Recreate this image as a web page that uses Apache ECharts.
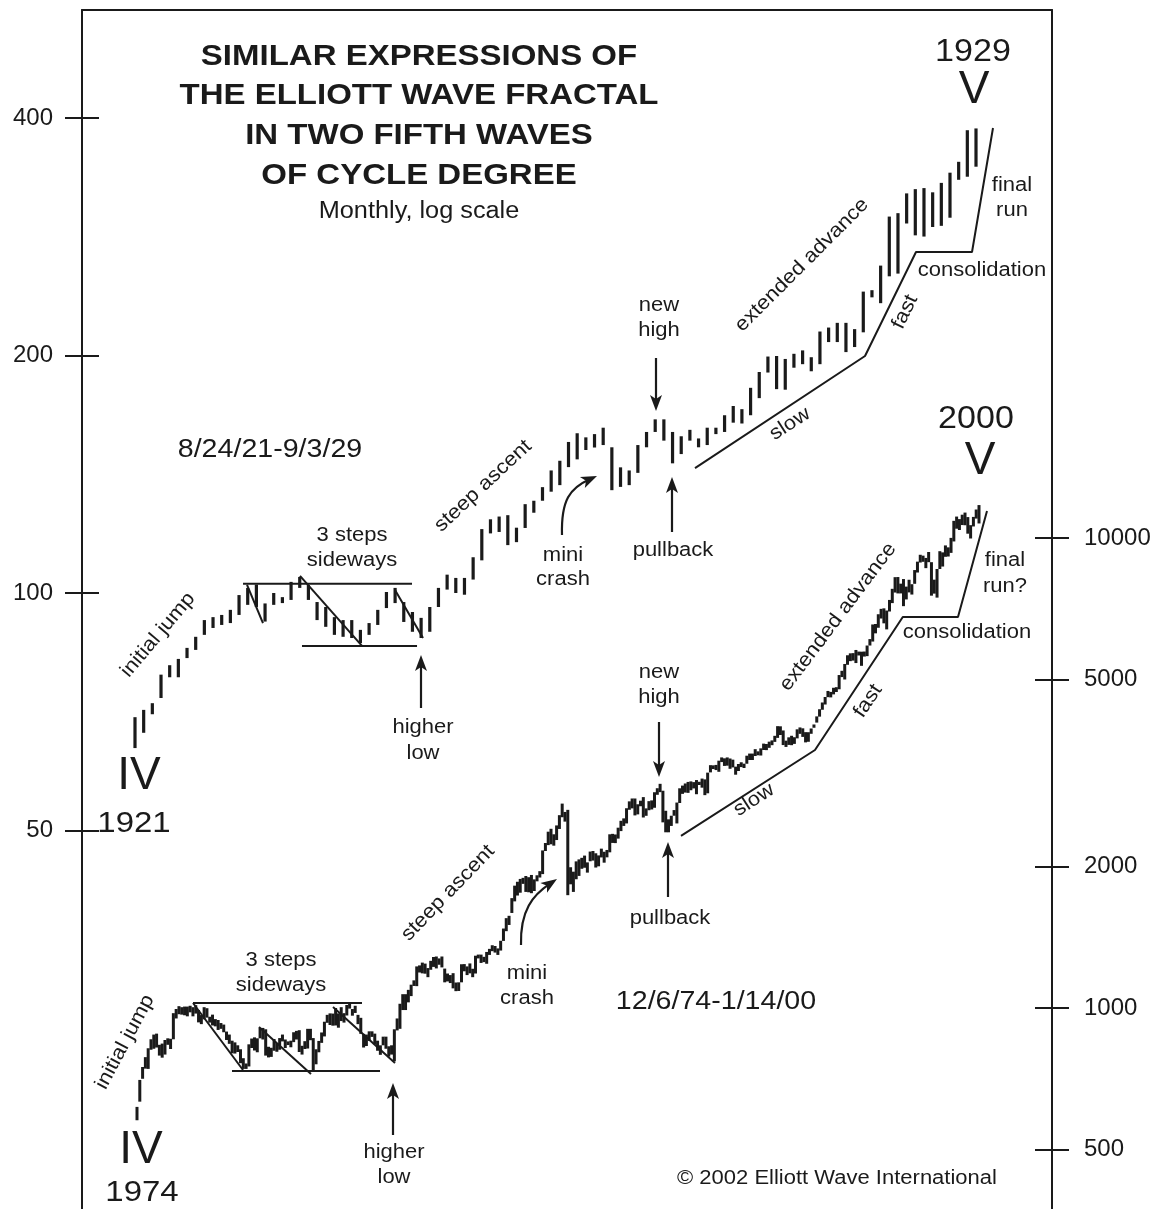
<!DOCTYPE html>
<html>
<head>
<meta charset="utf-8">
<title>Elliott Wave Fractal</title>
<script src="https://cdn.jsdelivr.net/npm/echarts@6/dist/echarts.min.js"></script>
<style>
  html, body { margin: 0; padding: 0; background: #fff; }
  #chart { width: 1163px; height: 1209px; }
</style>
</head>
<body>
<div id="chart"></div>
<script>
// DJIA monthly range, Aug 1921 .. Sep 1929 (index 0 = Aug 1921)
const lowTop = [
  63.6, 66.5, 70.2, 73.6, 78.2,
  78.2, 82.7, 84.7, 88.5, 90.3, 91.1, 91.6, 93.8, 96.6, 96.0, 92.0, 96.6,
  97.1, 98.0, 101.5, 98.0, 92.4, 90.6, 88.5, 88.0, 87.7, 86.4, 88.5, 91.1,
  95.7, 97.1, 91.9, 89.3, 87.7, 89.3, 96.0, 101, 100, 99.5, 104, 110,
  119, 119.5, 115, 116, 120.9, 126.4, 130.9, 134.4, 137, 144.4, 147.7, 151.8,
  152.9, 154, 135, 136.3, 137, 142, 153, 160, 156, 146, 150, 156,
  153, 154, 159, 160, 164.4, 164, 168, 176.6, 190.3, 181.3, 181, 193,
  195, 191, 195, 208, 208, 202, 205, 214, 237, 233, 252, 254,
  294, 284, 283, 291, 292, 299, 334, 337, 347
];
const highTop = [
  69.6, 71.1, 72.5, 78.8, 81.0,
  82.5, 85.2, 88.0, 92.4, 93.2, 93.8, 95.2, 99.4, 101.5, 102.5, 97.0, 100.0,
  98.8, 103.3, 104.8, 102.4, 97.4, 96.0, 93.2, 92.4, 92.4, 89.8, 91.6, 95.2,
  100.3, 101.5, 97.4, 94.6, 93.0, 96.0, 101.5, 105.5, 104.5, 104.5, 111, 120.5,
  124, 125, 125.5, 121, 129.6, 130.9, 136.2, 143, 147.1, 155.4, 159.4, 157.5,
  159, 162, 153, 144.3, 143, 154, 160, 166, 166, 160, 158, 161,
  157, 162, 162, 168, 172.6, 171, 182, 190.6, 199.4, 199.7, 198, 201,
  203, 199, 214.5, 217, 220, 220, 216, 241, 242, 260, 300, 303,
  321, 325, 326, 322, 331, 341, 352, 386, 388
];

// DJIA monthly range, Dec 1974 .. Jan 2000 (index 0 = Dec 1974)
const lowBot = [
  577,
  632, 707, 743, 742, 815, 819, 824, 792, 784, 796, 835, 818,
  858, 950, 970, 968, 965, 960, 979, 960, 973, 932, 924, 946,
  954, 931, 918, 914, 898, 903, 888, 855, 839, 801, 800, 806,
  763, 742, 742, 751, 822, 812, 805, 862, 857, 792, 785, 787,
  811, 807, 815, 849, 822, 834, 825, 846, 857, 806, 796, 818,
  820, 854, 735, 759, 805, 843, 870, 930, 920, 917, 918, 908,
  938, 931, 964, 997, 963, 976, 924, 881, 824, 830, 851, 868,
  837, 811, 795, 833, 819, 788, 796, 770, 896, 903, 990, 990,
  1028, 1060, 1114, 1113, 1190, 1185, 1183, 1163, 1206, 1223, 1214, 1236,
  1220, 1134, 1139, 1130, 1101, 1086, 1087, 1134, 1197, 1175, 1185, 1163,
  1184, 1275, 1247, 1252, 1242, 1297, 1321, 1312, 1297, 1325, 1389, 1457,
  1502, 1593, 1686, 1735, 1759, 1837, 1766, 1763, 1755, 1774, 1860, 1895,
  1927, 2158, 2221, 2230, 2215, 2277, 2404, 2546, 2492, 1738, 1833, 1766,
  1879, 1910, 1978, 1988, 1941, 2052, 2059, 1990, 2002, 2091, 2038, 2092,
  2144, 2245, 2243, 2293, 2379, 2440, 2470, 2641, 2659, 2569, 2582, 2687,
  2543, 2564, 2635, 2645, 2667, 2842, 2879, 2483, 2365, 2365, 2440, 2565,
  2470, 2730, 2855, 2873, 2869, 2906, 2932, 2850, 2982, 2943, 2837, 2863,
  3172, 3224, 3208, 3181, 3336, 3274, 3278, 3228, 3250, 3136, 3193, 3255,
  3241, 3309, 3370, 3370, 3437, 3449, 3445, 3539, 3537, 3577, 3624, 3683,
  3756, 3809, 3626, 3593, 3629, 3624, 3647, 3747, 3831, 3774, 3674, 3685,
  3832, 3947, 4048, 4168, 4311, 4423, 4585, 4580, 4648, 4703, 4766, 5059,
  5000, 5373, 5470, 5485, 5419, 5624, 5346, 5594, 5606, 5905, 6021, 6268,
  6442, 6740, 6583, 6391, 6976, 7269, 7655, 7622, 7622, 7161, 7401, 7660,
  7580, 7990, 8444, 8868, 8899, 8627, 8883, 7539, 7615, 7467, 8592, 8695,
  9120, 9133, 9297, 9832, 10466, 10400, 10655, 10645, 10213, 9976, 10581, 10998,
  10738
];
const highBot = [
  616,
  703, 749, 786, 821, 858, 878, 882, 835, 840, 855, 862, 860,
  975, 995, 1009, 1004, 1007, 1007, 1011, 1004, 1014, 990, 966, 1004,
  999, 958, 968, 947, 943, 929, 922, 891, 878, 852, 845, 833,
  817, 782, 762, 837, 861, 866, 862, 907, 907, 901, 827, 823,
  859, 842, 863, 878, 857, 849, 852, 888, 894, 897, 831, 850,
  903, 903, 863, 817, 851, 887, 935, 967, 974, 973, 1000, 974,
  1004, 975, 1015, 1024, 995, 1011, 967, 953, 881, 878, 892, 892,
  882, 852, 833, 869, 869, 829, 833, 901, 950, 1021, 1070, 1070,
  1093, 1121, 1145, 1226, 1232, 1249, 1243, 1216, 1260, 1284, 1287, 1275,
  1287, 1213, 1184, 1175, 1186, 1133, 1134, 1239, 1240, 1226, 1244, 1212,
  1292, 1299, 1299, 1285, 1316, 1336, 1360, 1355, 1339, 1390, 1476, 1553,
  1571, 1713, 1821, 1856, 1882, 1892, 1909, 1898, 1919, 1878, 1916, 1955,
  2164, 2244, 2372, 2406, 2342, 2446, 2572, 2722, 2613, 2640, 1993, 1950,
  2051, 2071, 2087, 2110, 2041, 2152, 2158, 2134, 2112, 2183, 2150, 2169,
  2342, 2347, 2340, 2419, 2502, 2532, 2661, 2752, 2791, 2791, 2713, 2761,
  2810, 2659, 2755, 2765, 2878, 2935, 2999, 2899, 2628, 2520, 2565, 2637,
  2736, 2934, 2973, 3004, 3027, 3035, 3024, 3055, 3029, 3077, 3065, 3168,
  3286, 3283, 3290, 3359, 3413, 3398, 3413, 3395, 3376, 3262, 3305, 3333,
  3310, 3442, 3478, 3478, 3554, 3516, 3568, 3652, 3645, 3687, 3710, 3794,
  3978, 3975, 3895, 3705, 3766, 3795, 3768, 3917, 3953, 3936, 3863, 3862,
  3933, 4011, 4173, 4322, 4467, 4589, 4727, 4705, 4801, 4815, 5110, 5217,
  5395, 5630, 5683, 5689, 5778, 5732, 5729, 5734, 5905, 6094, 6547, 6561,
  6883, 7067, 7085, 7009, 7383, 7796, 8254, 8259, 7996, 8178, 7881, 8150,
  7974, 8546, 8906, 9211, 9172, 9070, 9338, 8883, 8154, 8592, 9374, 9320,
  9643, 9552, 10006, 10878, 11107, 10970, 11209, 11326, 11079, 10649, 11089, 11497,
  11750
];

const leftTicks = [50, 100, 200, 400];
const rightTicks = [500, 1000, 2000, 5000, 10000];

// hand-drawn guide lines, [month index, index level]
const topGuides = [
  [[12.46, 102.7], [31.95, 102.7]],
  [[19.26, 85.7], [32.53, 85.7]],
  [[12.92, 102.4], [14.76, 91.6]],
  [[19.03, 105.1], [26.18, 85.7]],
  [[29.99, 100.9], [33.22, 87.7]],
  [[64.59, 144.0], [84.20, 199.7], [90.08, 270.5], [96.54, 270.5], [98.96, 388.5]]
];
const botGuides = [
  [[20.02, 1024.8], [80.43, 1024.8]],
  [[33.96, 734.6], [86.87, 734.6]],
  [[20.02, 1024.8], [37.89, 738]],
  [[43.61, 911], [62.2, 723.8]],
  [[70.07, 1004.9], [92.23, 763.8]],
  [[194.47, 2323], [242.37, 3540], [273.76, 6790], [293.49, 6790], [303.86, 11415]]
];

const INK = '#1a1a1a';
const FONT = '"Liberation Sans", Arial, Helvetica, sans-serif';
const lg = v => Math.log10(v);

function barRenderer(w) {
  return function (params, api) {
    const x = api.value(0);
    const top = api.coord([x, api.value(2)]);
    const bot = api.coord([x, api.value(1)]);
    const h = Math.max(2.5, bot[1] - top[1]);
    return { type: 'rect', shape: { x: top[0] - w / 2, y: top[1], width: w, height: h }, style: { fill: INK } };
  };
}

function txt(s, x, y, size, o) {
  o = o || {};
  return {
    type: 'text', x: x, y: y, z: 20,
    rotation: (o.rot || 0) * Math.PI / 180,
    scaleX: o.sx == null ? 1.1 : o.sx,
    style: {
      text: s, fill: INK,
      font: (o.bold ? 'bold ' : '') + size + 'px ' + FONT,
      textAlign: 'center', textVerticalAlign: 'middle',
      align: 'center', verticalAlign: 'middle'
    }
  };
}

function head(tx, ty, ang) {
  const L = 16, W = 6;
  const c = Math.cos(ang), s = Math.sin(ang);
  const bx = tx - L * c, by = ty - L * s;
  return {
    type: 'polygon', z: 20,
    shape: { points: [[tx, ty], [bx - W * s, by + W * c], [tx - 0.75 * L * c, ty - 0.75 * L * s], [bx + W * s, by - W * c]] },
    style: { fill: INK }
  };
}

function arrow(x1, y1, x2, y2) {
  const a = Math.atan2(y2 - y1, x2 - x1);
  return [
    { type: 'line', z: 20, shape: { x1: x1, y1: y1, x2: x2 - 10 * Math.cos(a), y2: y2 - 10 * Math.sin(a) }, style: { stroke: INK, lineWidth: 2.2 } },
    head(x2, y2, a)
  ];
}

function curvedArrow(x1, y1, c1x, c1y, c2x, c2y, x2, y2) {
  const a = Math.atan2(y2 - c2y, x2 - c2x);
  return [
    { type: 'bezierCurve', z: 20, shape: { x1: x1, y1: y1, cpx1: c1x, cpy1: c1y, cpx2: c2x, cpy2: c2y, x2: x2 - 8 * Math.cos(a), y2: y2 - 8 * Math.sin(a) }, style: { stroke: INK, lineWidth: 2.2, fill: null } },
    head(x2, y2, a)
  ];
}

const graphics = [
  txt('SIMILAR EXPRESSIONS OF', 419, 57, 30, { bold: true }),
  txt('THE ELLIOTT WAVE FRACTAL', 419, 96, 30, { bold: true }),
  txt('IN TWO FIFTH WAVES', 419, 136, 30, { bold: true }),
  txt('OF CYCLE DEGREE', 419, 176, 30, { bold: true }),
  txt('Monthly, log scale', 419, 212, 23),

  // 1921-29
  txt('1929', 973, 52, 31),
  txt('V', 974, 90, 46, { sx: 1 }),
  txt('final', 1012, 185, 20),
  txt('run', 1012, 210, 20),
  txt('consolidation', 982, 270, 20),
  txt('fast', 905, 312, 20, { rot: 64 }),
  txt('slow', 790, 424, 20, { rot: 33 }),
  txt('extended advance', 802, 265, 20, { rot: 45 }),
  txt('new', 659, 305, 20),
  txt('high', 659, 330, 20),
  txt('steep ascent', 483, 486, 20, { rot: 43 }),
  txt('mini', 563, 555, 20),
  txt('crash', 563, 579, 20),
  txt('pullback', 673, 550, 20),
  txt('8/24/21-9/3/29', 270, 450, 26),
  txt('3 steps', 352, 535, 20),
  txt('sideways', 352, 560, 20),
  txt('initial jump', 158, 635, 20, { rot: 50 }),
  txt('higher', 423, 727, 20),
  txt('low', 423, 753, 20),
  txt('IV', 139, 776, 46, { sx: 1 }),
  txt('1921', 134, 824, 30),

  // 1974-2000
  txt('2000', 976, 419, 31),
  txt('V', 980, 461, 46, { sx: 1 }),
  txt('final', 1005, 560, 20),
  txt('run?', 1005, 586, 20),
  txt('consolidation', 967, 632, 20),
  txt('fast', 868, 701, 20, { rot: 56 }),
  txt('extended advance', 838, 617, 20, { rot: 53 }),
  txt('slow', 754, 800, 20, { rot: 33 }),
  txt('new', 659, 672, 20),
  txt('high', 659, 697, 20),
  txt('pullback', 670, 918, 20),
  txt('steep ascent', 448, 893, 20, { rot: 46 }),
  txt('mini', 527, 973, 20),
  txt('crash', 527, 998, 20),
  txt('12/6/74-1/14/00', 716, 1002, 26),
  txt('3 steps', 281, 960, 20),
  txt('sideways', 281, 985, 20),
  txt('initial jump', 125, 1042, 20, { rot: 62 }),
  txt('higher', 394, 1152, 20),
  txt('low', 394, 1177, 20),
  txt('IV', 141, 1150, 46, { sx: 1 }),
  txt('1974', 142, 1193, 30),
  txt('\u00A9 2002 Elliott Wave International', 837, 1178, 20)
].concat(
  arrow(656, 358, 656, 411),
  arrow(672, 532, 672, 477),
  arrow(421, 708, 421, 655),
  curvedArrow(562, 535, 561, 500, 570, 488, 597, 476),
  arrow(659, 722, 659, 777),
  arrow(668, 897, 668, 842),
  arrow(393, 1135, 393, 1083),
  curvedArrow(521, 945, 520, 910, 533, 895, 557, 879)
);

const guideSeries = (guides, xi, yi) => guides.map(g => ({
  type: 'line', xAxisIndex: xi, yAxisIndex: yi, silent: true,
  symbol: 'none', animation: false,
  lineStyle: { color: INK, width: 2 },
  data: g.map(p => [p[0], lg(p[1])])
}));

const chart = echarts.init(document.getElementById('chart'), null, { renderer: 'canvas' });

const tickStyle = { color: INK, width: 2 };
const labelStyle = { color: INK, fontSize: 24, fontFamily: FONT };
const frameLine = { show: true, onZero: false, lineStyle: { color: INK, width: 2 } };

chart.setOption({
  animation: false,
  backgroundColor: '#fff',
  grid: { left: 82, right: 111, top: 10, bottom: 0, containLabel: false },
  xAxis: [
    { type: 'value', position: 'top', min: -6.1129, max: 105.7657,
      axisLine: frameLine,
      axisTick: { show: false }, axisLabel: { show: false }, splitLine: { show: false } },
    { type: 'value', position: 'bottom', min: -19.6616, max: 327.0962, show: false,
      axisLine: { onZero: false } }
  ],
  yAxis: [
    { type: 'value', position: 'left', min: 1.21923, max: 2.73895,
      axisLine: frameLine,
      axisTick: { show: true, length: 17, lineStyle: tickStyle, customValues: leftTicks.map(lg) },
      axisLabel: Object.assign({ margin: 29, customValues: leftTicks.map(lg),
        formatter: v => String(Math.round(Math.pow(10, v))) }, labelStyle),
      splitLine: { show: false } },
    { type: 'value', position: 'left', min: 1.21923, max: 2.73895,
      axisLine: { show: false, onZero: false },
      axisTick: { show: true, inside: true, length: 17, lineStyle: tickStyle, customValues: leftTicks.map(lg) },
      axisLabel: { show: false }, splitLine: { show: false } },
    { type: 'value', position: 'right', min: 2.57234, max: 5.12340,
      axisLine: frameLine,
      axisTick: { show: true, length: 17, lineStyle: tickStyle, customValues: rightTicks.map(lg) },
      axisLabel: Object.assign({ margin: 32, customValues: rightTicks.map(lg),
        formatter: v => String(Math.round(Math.pow(10, v))) }, labelStyle),
      splitLine: { show: false } },
    { type: 'value', position: 'right', min: 2.57234, max: 5.12340,
      axisLine: { show: false, onZero: false },
      axisTick: { show: true, inside: true, length: 17, lineStyle: tickStyle, customValues: rightTicks.map(lg) },
      axisLabel: { show: false }, splitLine: { show: false } }
  ],
  series: [
    { type: 'custom', name: '1921-1929', xAxisIndex: 0, yAxisIndex: 0,
      renderItem: barRenderer(3.2), encode: { x: 0, y: [1, 2] },
      data: lowTop.map((lo, i) => [i, lg(lo), lg(highTop[i])]) },
    { type: 'custom', name: '1974-2000', xAxisIndex: 1, yAxisIndex: 2,
      renderItem: barRenderer(3.0), encode: { x: 0, y: [1, 2] },
      data: lowBot.map((lo, i) => [i, lg(lo), lg(highBot[i])]) }
  ].concat(guideSeries(topGuides, 0, 0), guideSeries(botGuides, 1, 2)),
  graphic: graphics
});
</script>
</body>
</html>
